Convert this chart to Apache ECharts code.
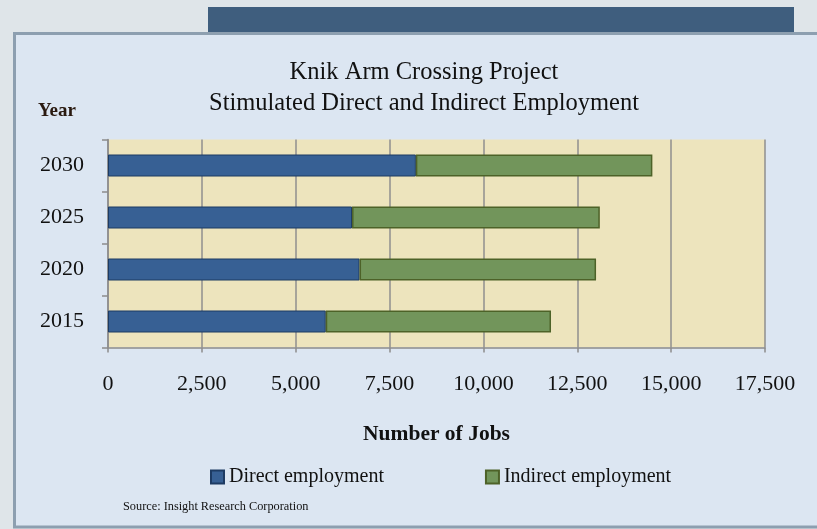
<!DOCTYPE html>
<html>
<head>
<meta charset="utf-8">
<script src="https://cdn.jsdelivr.net/npm/echarts@6/dist/echarts.min.js"></script>
<style>
html,body{margin:0;padding:0;background:#dfe5e9;}
#main{width:817px;height:529px;}
</style>
</head>
<body>
<div id="main"></div>
<script>
// Data
const years = ['2015', '2020', '2025', '2030'];
const directEmployment = [5800, 6700, 6500, 8200];
const indirectEmployment = [6000, 6300, 6600, 6300];
const xTicks = [0, 2500, 5000, 7500, 10000, 12500, 15000, 17500];
const titleLines = ['Knik Arm Crossing Project', 'Stimulated Direct and Indirect Employment'];
const seriesNames = ['Direct employment', 'Indirect employment'];

const SERIF = '"Liberation Serif", "DejaVu Serif", serif';
const chart = echarts.init(document.getElementById('main'));

chart.setOption({
  backgroundColor: '#dfe5e9',
  animation: false,
  graphic: [
    { type: 'rect', z: -10, shape: { x: 208, y: 7, width: 586, height: 30 }, style: { fill: '#3f5e7e' } },
    { type: 'rect', z: -9, shape: { x: 14.5, y: 33.5, width: 820, height: 493.5 }, style: { fill: '#dce6f2', stroke: '#8d9fb0', lineWidth: 3 } },
    { type: 'text', z: 5, left: 38, top: 102, style: { text: 'Year', font: 'bold 19px ' + SERIF, fill: '#2a1a10' } },
    { type: 'text', z: 5, left: 123, top: 501, style: { text: 'Source: Insight Research Corporation', font: '12.3px ' + SERIF, fill: '#111' } }
  ],
  title: {
    text: titleLines.join('\n'),
    left: 419,
    textAlign: 'center',
    top: 52,
    textStyle: { fontFamily: SERIF, fontSize: 24.5, fontWeight: 'normal', color: '#111', lineHeight: 31 }
  },
  legend: {
    data: seriesNames,
    left: 205,
    top: 462,
    icon: 'rect',
    itemWidth: 13,
    itemHeight: 13,
    itemGap: 101,
    textStyle: { fontFamily: SERIF, fontSize: 20, color: '#111' }
  },
  grid: {
    left: 108, right: 52, top: 139.5, bottom: 181.5,
    show: true, backgroundColor: '#ede4bd', borderWidth: 0
  },
  xAxis: {
    type: 'value',
    min: xTicks[0],
    max: xTicks[xTicks.length - 1],
    interval: 2500,
    name: 'Number of Jobs',
    nameLocation: 'middle',
    nameGap: 76,
    nameTextStyle: { fontFamily: SERIF, fontSize: 21.5, fontWeight: 'bold', color: '#111' },
    axisLine: { show: true, lineStyle: { color: '#8c8c8c', width: 1.5 } },
    axisTick: { show: true, length: 5, lineStyle: { color: '#8c8c8c', width: 1.5 } },
    splitLine: { show: true, lineStyle: { color: '#8f8f8f', width: 1.5 } },
    axisLabel: {
      margin: 26,
      fontFamily: SERIF, fontSize: 22, color: '#111',
      formatter: v => v.toLocaleString('en-US')
    }
  },
  yAxis: {
    type: 'category',
    data: years,
    axisLine: { show: true, lineStyle: { color: '#8c8c8c', width: 1.5 } },
    axisTick: { show: true, length: 6, alignWithLabel: false, lineStyle: { color: '#8c8c8c', width: 1.5 } },
    axisLabel: { margin: 24, fontFamily: SERIF, fontSize: 22, color: '#111' }
  },
  series: [
    {
      name: seriesNames[0], type: 'bar', stack: 'total', barWidth: 22,
      data: directEmployment,
      itemStyle: { color: '#376094', borderColor: '#1d3b63', borderWidth: 1 }
    },
    {
      name: seriesNames[1], type: 'bar', stack: 'total', barWidth: 22,
      data: indirectEmployment,
      itemStyle: { color: '#72955b', borderColor: '#4d6228', borderWidth: 1.5 }
    }
  ]
});
</script>
</body>
</html>
